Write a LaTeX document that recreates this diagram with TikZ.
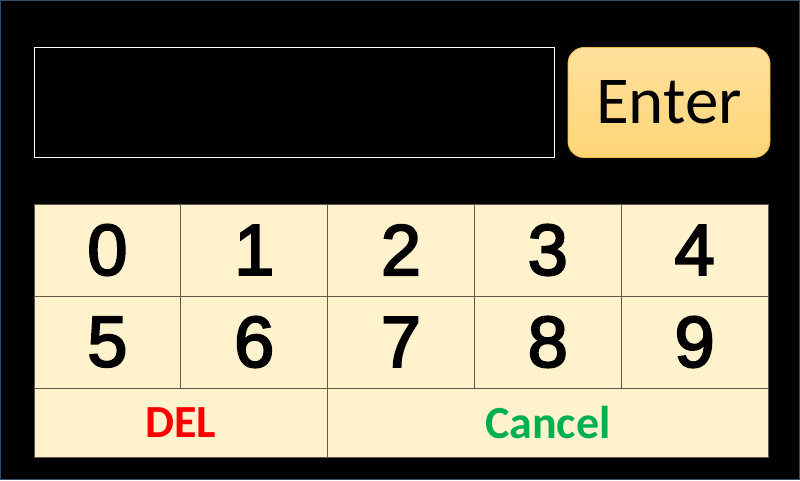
\documentclass[tikz,border=0pt]{standalone}
\usepackage{fontspec}
\setmainfont{Liberation Sans}
\newfontfamily\calibri{Carlito}
\newfontfamily\digitfont{Liberation Sans}[FakeBold=3]
\usetikzlibrary{positioning}
\definecolor{keyfill}{RGB}{255,242,204}
\definecolor{keyline}{RGB}{95,90,70}
\definecolor{frameblue}{RGB}{46,78,110}
\definecolor{entertop}{RGB}{255,225,158}
\definecolor{enterbottom}{RGB}{255,213,118}
\definecolor{enteredge}{RGB}{235,190,70}
\definecolor{delred}{RGB}{255,0,0}
\definecolor{cancelgreen}{RGB}{0,176,80}
\tikzstyle{key cell}=[rectangle,draw=keyline,line width=0.7pt,fill=keyfill,inner sep=0,outer sep=0,minimum width=146.8pt,minimum height=92pt,font=\digitfont\fontsize{72}{72}\selectfont]
\tikzstyle{wide cell}=[key cell,minimum height=69pt,font=\calibri\bfseries\fontsize{46}{46}\selectfont]

\begin{document}
\begin{tikzpicture}[x=1pt,y=-1pt]

		\fill[black] (0,0) rectangle (800,480);
		\useasboundingbox (0,0) rectangle (800,480);
		\draw[frameblue,line width=1pt] (0.5,0.5) rectangle (799.5,479.5);

		% display and enter button
		\node(display)[draw=white,line width=0.8pt,minimum width=520pt,minimum height=110pt,inner sep=0] at (294,102){};
		\node(enter)[draw=enteredge,line width=0.8pt,rounded corners=16pt,top color=entertop,bottom color=enterbottom,minimum width=202pt,minimum height=110pt,inner sep=0,font=\calibri\fontsize{67}{67}\selectfont] at (669,102.5){Enter};

		% digit keys
		\node(k0)[key cell] at (107.4,250){0};
		\node(k1)[key cell,right=0pt of k0]{1};
		\node(k2)[key cell,right=0pt of k1]{2};
		\node(k3)[key cell,right=0pt of k2]{3};
		\node(k4)[key cell,right=0pt of k3]{4};
		\node(k5)[key cell,below=0pt of k0]{5};
		\node(k6)[key cell,right=0pt of k5]{6};
		\node(k7)[key cell,right=0pt of k6]{7};
		\node(k8)[key cell,right=0pt of k7]{8};
		\node(k9)[key cell,right=0pt of k8]{9};

		% bottom row
		\node(del)[wide cell,minimum width=293.6pt,text=delred,anchor=north west] at (k5.south west){DEL};
		\node(cancel)[wide cell,minimum width=440.4pt,text=cancelgreen,right=0pt of del]{Cancel};

\end{tikzpicture}
\end{document}
